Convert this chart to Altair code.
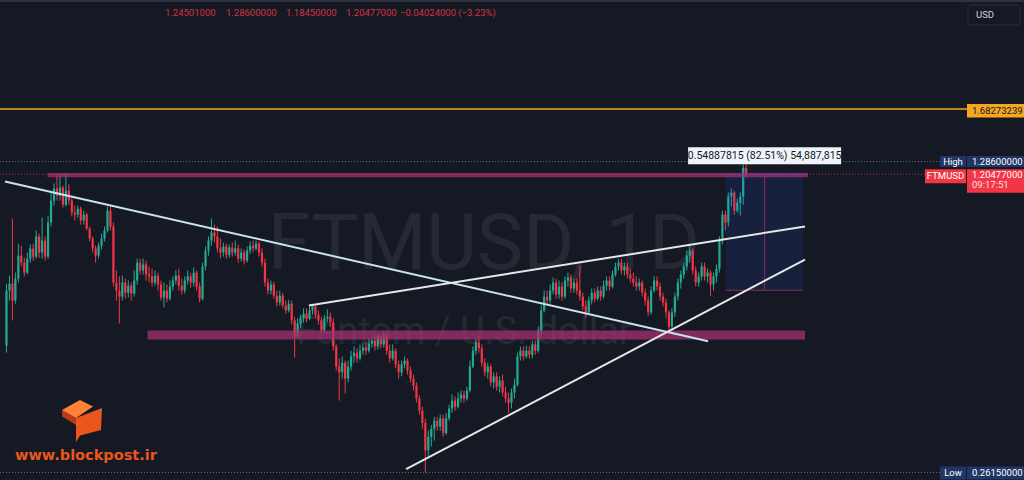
import altair as alt
import pandas as pd

BG = "#151924"
UP = "#22ab94"
DOWN = "#f23645"

# ---------------- data (daily candles, FTMUSD) ----------------
first_open = 0.501
close = [
    0.664, 0.688, 0.631, 0.706, 0.794, 0.766, 0.728, 0.782, 0.824, 0.790,
    0.876, 0.807, 0.858, 0.790, 0.941, 1.053, 1.120, 1.080, 1.126, 1.031,
    1.108, 1.053, 0.990, 0.980, 1.010, 0.951, 0.980, 0.912, 0.867, 0.824,
    0.794, 0.836, 0.867, 0.903, 1.000, 0.922, 0.692, 0.664, 0.644, 0.692,
    0.657, 0.681, 0.654, 0.699, 0.766, 0.736, 0.759, 0.721, 0.714, 0.692,
    0.717, 0.685, 0.641, 0.664, 0.637, 0.678, 0.699, 0.717, 0.681, 0.664,
    0.699, 0.714, 0.692, 0.728, 0.678, 0.637, 0.751, 0.815, 0.858, 0.894,
    0.876, 0.824, 0.807, 0.832, 0.798, 0.828, 0.807, 0.824, 0.782, 0.807,
    0.774, 0.815, 0.836, 0.824, 0.845, 0.807, 0.766, 0.692, 0.664, 0.685,
    0.647, 0.625, 0.647, 0.615, 0.600, 0.621, 0.570, 0.525, 0.561, 0.576,
    0.590, 0.576, 0.600, 0.612, 0.587, 0.570, 0.541, 0.576, 0.581, 0.564,
    0.499, 0.450, 0.437, 0.459, 0.423, 0.450, 0.474, 0.483, 0.469, 0.488,
    0.496, 0.488, 0.506, 0.514, 0.499, 0.525, 0.504, 0.530, 0.488, 0.469,
    0.488, 0.455, 0.437, 0.455, 0.464, 0.441, 0.423, 0.408, 0.382, 0.359,
    0.337, 0.293, 0.314, 0.327, 0.341, 0.331, 0.345, 0.320, 0.345, 0.363,
    0.378, 0.366, 0.382, 0.390, 0.382, 0.398, 0.450, 0.488, 0.509, 0.494,
    0.459, 0.437, 0.450, 0.415, 0.428, 0.406, 0.419, 0.394, 0.382, 0.374,
    0.394, 0.410, 0.474, 0.488, 0.474, 0.488, 0.478, 0.504, 0.488, 0.541,
    0.600, 0.644, 0.631, 0.664, 0.692, 0.651, 0.678, 0.644, 0.699, 0.710,
    0.671, 0.692, 0.664, 0.644, 0.612, 0.594, 0.631, 0.657, 0.637, 0.664,
    0.644, 0.681, 0.699, 0.678, 0.721, 0.751, 0.766, 0.736, 0.751, 0.721,
    0.706, 0.692, 0.678, 0.692, 0.657, 0.631, 0.594, 0.664, 0.699, 0.678,
    0.644, 0.625, 0.594, 0.552, 0.594, 0.644, 0.692, 0.721, 0.751, 0.794,
    0.815, 0.736, 0.692, 0.714, 0.751, 0.714, 0.728, 0.685, 0.714, 0.743,
    0.858, 0.980, 0.941, 1.075, 1.097, 1.000, 1.042, 1.075, 1.245, 1.20477,
]
high = [
    0.688, 0.717, 0.960, 0.728, 0.845, 0.836, 0.786, 0.807, 0.841, 0.845,
    0.903, 0.889, 0.965, 0.876, 0.975, 1.097, 1.150, 1.204, 1.210, 1.137,
    1.210, 1.144, 1.075, 1.026, 1.026, 1.021, 1.000, 0.990, 0.922, 0.876,
    0.836, 0.849, 0.889, 0.922, 1.021, 1.026, 0.941, 0.736, 0.714, 0.717,
    0.706, 0.699, 0.692, 0.736, 0.782, 0.782, 0.782, 0.774, 0.751, 0.743,
    0.736, 0.728, 0.699, 0.692, 0.685, 0.699, 0.714, 0.736, 0.743, 0.706,
    0.714, 0.736, 0.728, 0.747, 0.736, 0.692, 0.766, 0.832, 0.876, 0.960,
    0.931, 0.922, 0.867, 0.849, 0.845, 0.841, 0.849, 0.858, 0.841, 0.824,
    0.819, 0.832, 0.854, 0.858, 0.858, 0.854, 0.824, 0.782, 0.706, 0.699,
    0.695, 0.664, 0.664, 0.657, 0.631, 0.634, 0.631, 0.581, 0.576, 0.587,
    0.606, 0.606, 0.612, 0.618, 0.615, 0.600, 0.581, 0.587, 0.603, 0.594,
    0.576, 0.504, 0.469, 0.474, 0.464, 0.464, 0.488, 0.499, 0.494, 0.504,
    0.509, 0.509, 0.520, 0.525, 0.525, 0.533, 0.530, 0.541, 0.541, 0.504,
    0.504, 0.494, 0.464, 0.464, 0.474, 0.469, 0.450, 0.432, 0.415, 0.388,
    0.366, 0.345, 0.324, 0.334, 0.348, 0.348, 0.352, 0.352, 0.355, 0.370,
    0.390, 0.386, 0.394, 0.398, 0.398, 0.406, 0.464, 0.499, 0.520, 0.525,
    0.504, 0.469, 0.459, 0.455, 0.437, 0.437, 0.428, 0.432, 0.406, 0.394,
    0.402, 0.423, 0.483, 0.499, 0.499, 0.501, 0.499, 0.514, 0.514, 0.552,
    0.615, 0.664, 0.664, 0.685, 0.710, 0.706, 0.699, 0.692, 0.714, 0.728,
    0.721, 0.706, 0.706, 0.755, 0.657, 0.631, 0.644, 0.671, 0.671, 0.678,
    0.678, 0.699, 0.714, 0.714, 0.736, 0.766, 0.782, 0.782, 0.766, 0.766,
    0.743, 0.728, 0.714, 0.706, 0.699, 0.671, 0.644, 0.678, 0.714, 0.714,
    0.692, 0.657, 0.637, 0.600, 0.606, 0.657, 0.706, 0.736, 0.766, 0.815,
    0.836, 0.824, 0.751, 0.728, 0.766, 0.766, 0.743, 0.736, 0.728, 0.759,
    0.876, 1.000, 1.000, 1.097, 1.120, 1.108, 1.064, 1.097, 1.266, 1.286,
]
low = [
    0.483, 0.631, 0.570, 0.621, 0.692, 0.751, 0.714, 0.721, 0.766, 0.774,
    0.782, 0.786, 0.782, 0.774, 0.782, 0.922, 1.026, 1.053, 1.053, 1.016,
    1.021, 1.031, 0.970, 0.951, 0.965, 0.931, 0.931, 0.903, 0.854, 0.807,
    0.766, 0.782, 0.819, 0.854, 0.894, 0.903, 0.678, 0.631, 0.561, 0.631,
    0.637, 0.641, 0.631, 0.644, 0.685, 0.721, 0.721, 0.699, 0.692, 0.678,
    0.681, 0.664, 0.631, 0.609, 0.625, 0.631, 0.664, 0.685, 0.664, 0.651,
    0.654, 0.685, 0.674, 0.678, 0.664, 0.625, 0.631, 0.736, 0.794, 0.836,
    0.849, 0.807, 0.782, 0.790, 0.782, 0.786, 0.790, 0.794, 0.766, 0.770,
    0.759, 0.766, 0.802, 0.807, 0.815, 0.790, 0.751, 0.678, 0.651, 0.651,
    0.637, 0.612, 0.615, 0.606, 0.590, 0.594, 0.558, 0.471, 0.520, 0.547,
    0.564, 0.564, 0.570, 0.587, 0.576, 0.558, 0.533, 0.536, 0.564, 0.552,
    0.488, 0.441, 0.378, 0.423, 0.392, 0.415, 0.441, 0.459, 0.459, 0.464,
    0.478, 0.478, 0.483, 0.496, 0.488, 0.491, 0.494, 0.496, 0.478, 0.459,
    0.464, 0.446, 0.423, 0.428, 0.446, 0.432, 0.415, 0.398, 0.374, 0.352,
    0.327, 0.2615, 0.284, 0.299, 0.308, 0.324, 0.324, 0.314, 0.317, 0.341,
    0.355, 0.359, 0.363, 0.374, 0.374, 0.378, 0.394, 0.446, 0.478, 0.483,
    0.450, 0.428, 0.423, 0.406, 0.402, 0.398, 0.394, 0.386, 0.374, 0.355,
    0.363, 0.382, 0.406, 0.464, 0.464, 0.469, 0.469, 0.469, 0.478, 0.483,
    0.530, 0.594, 0.618, 0.621, 0.651, 0.637, 0.637, 0.631, 0.637, 0.678,
    0.657, 0.657, 0.651, 0.631, 0.600, 0.578, 0.587, 0.618, 0.625, 0.631,
    0.631, 0.637, 0.664, 0.664, 0.671, 0.714, 0.736, 0.721, 0.717, 0.706,
    0.692, 0.678, 0.664, 0.664, 0.644, 0.615, 0.584, 0.587, 0.657, 0.664,
    0.631, 0.612, 0.576, 0.536, 0.541, 0.581, 0.631, 0.671, 0.706, 0.736,
    0.766, 0.721, 0.678, 0.678, 0.699, 0.699, 0.692, 0.647, 0.664, 0.692,
    0.728, 0.841, 0.903, 0.922, 1.021, 0.980, 0.990, 0.975, 1.031, 1.1845,
]

# drawings (bar index, price)
trend_desc = {"i": [-0.5, 236.2], "p": [1.161, 0.512]}
trend_up_hi = {"i": [101.8, 268.8], "p": [0.615, 0.922]}
trend_up_lo = {"i": [134.5, 268.8], "p": [0.266, 0.778]}
bands = {"i": [13.8, 47.5], "i2": [269.8, 268.8], "p": [1.186, 0.517], "p2": [1.213, 0.541]}
range_box = {"i": [242.2], "i2": [268.2], "p": [0.6652], "p2": [1.2141], "im": [255.2]}
range_text = "0.54887815 (82.51%) 54,887,815"

legend_values = ["1.24501000", "1.28600000", "1.18450000", "1.20477000", "\u22120.04024000 (\u22123.23%)"]
legend_x = [165, 226, 286, 346, 400]
alert_price = 1.68273239
high_price = 1.286
last_price = 1.20477
low_price = 0.2615

# ---------------- build ----------------
opens = [first_open] + close[:-1]
df = pd.DataFrame({"i": list(range(len(close))), "open": opens, "high": high, "low": low, "close": close})
df["dir"] = ["up" if c >= o else "down" for o, c in zip(df["open"], df["close"])]

xs = alt.Scale(domain=[-0.5, 1024 / 3 - 0.5], nice=False, zero=False)
ys = alt.Scale(type="log", domain=[0.2517, 2.941], nice=False)
X = lambda f: alt.X(f, type="quantitative", scale=xs, axis=None)
Y = lambda f: alt.Y(f, type="quantitative", scale=ys, axis=None)
col = alt.Color("dir:N", scale=alt.Scale(domain=["up", "down"], range=[UP, DOWN]), legend=None)
FONT = "Roboto"
LFS = 9.5

def box(w, top, bottom):
    h = w / 2.0
    t, b = top / h, bottom / h
    return "M-1,%.4f L1,%.4f L1,%.4f L-1,%.4f Z" % (t, t, b, b), w * w

def one(**kw):
    return pd.DataFrame({k: [v] for k, v in kw.items()})

# watermark
wm1 = alt.Chart(one(t="FTMUSD, 1D")).mark_text(
    font=FONT, fontSize=78, color="#ffffff", opacity=0.065, align="center", baseline="middle"
).encode(text="t:N", x=alt.value(484), y=alt.value(246))
wm2 = alt.Chart(one(t="Fantom / U.S. dollar")).mark_text(
    font=FONT, fontSize=38, color="#ffffff", opacity=0.065, align="center", baseline="middle"
).encode(text="t:N", x=alt.value(464), y=alt.value(333))

# horizontal price lines
orange_line = alt.Chart(one(p=alert_price)).mark_rule(color="#f5a623", strokeWidth=1.5).encode(
    y=Y("p"), x=alt.value(0), x2=alt.value(967))
dotted = alt.Chart(pd.DataFrame({"p": [high_price, low_price]})).mark_rule(
    color="#6a6d78", strokeWidth=1, strokeDash=[1, 2]).encode(y=Y("p"), x=alt.value(0), x2=alt.value(940))
last_line = alt.Chart(one(p=last_price)).mark_rule(
    color="#b03048", strokeWidth=1, strokeDash=[1, 2]).encode(y=Y("p"), x=alt.value(0), x2=alt.value(925))

# candles
wicks = alt.Chart(df).mark_rule(strokeWidth=1).encode(x=X("i"), y=Y("low"), y2="high:Q", color=col)
bodies = alt.Chart(df).mark_bar(width=2.2).encode(x=X("i"), y=Y("open"), y2="close:Q", color=col)

# bands
band_layer = alt.Chart(pd.DataFrame(bands)).mark_rect(color="#a0306e", opacity=0.78).encode(
    x=X("i"), x2="i2:Q", y=Y("p"), y2="p2:Q")

# range tool
rb = pd.DataFrame(range_box)
rb_fill = alt.Chart(rb).mark_rect(color="#2962ff", opacity=0.12).encode(x=X("i"), x2="i2:Q", y=Y("p"), y2="p2:Q")
rb_mid = alt.Chart(rb).mark_rule(color="#8a2c50", strokeWidth=1).encode(x=X("im"), y=Y("p"), y2="p2:Q")
rb_bot = alt.Chart(rb).mark_rule(color="#8a2c50", strokeWidth=1).encode(x=X("i"), x2="i2:Q", y=Y("p"))
shape, size = box(153, -25.5, -8.5)
rb_lab_box = alt.Chart(rb).mark_point(shape=shape, size=size, filled=True, opacity=1, color="#f0f3fa", strokeWidth=0).encode(
    x=X("im"), y=Y("p2"))
rb_lab = alt.Chart(rb.assign(t=[range_text])).mark_text(font=FONT, fontSize=10.5, color="#131722", dy=-17).encode(
    x=X("im"), y=Y("p2"), text="t:N")

# trend lines
def tline(d, color):
    return alt.Chart(pd.DataFrame(d)).mark_line(color=color, strokeWidth=2).encode(x=X("i"), y=Y("p"), order="i:Q")
lines = [tline(trend_desc, "#c9e3ec"), tline(trend_up_hi, "#e6e6e6"), tline(trend_up_lo, "#e6e6e6")]

# right-hand price labels
def label_box(price, x, w, top, bottom, color):
    s, sz = box(w, top, bottom)
    return alt.Chart(one(p=price)).mark_point(
        shape=s, size=sz, filled=True, opacity=1, color=color, strokeWidth=0).encode(x=alt.value(x), y=Y("p"))

def label_text(price, text, x, dy, color, align="left"):
    return alt.Chart(one(p=price, t=text)).mark_text(
        font=FONT, fontSize=LFS, color=color, align=align, baseline="middle", dy=dy).encode(
        x=alt.value(x), y=Y("p"), text="t:N")

NAVY = "#1f3667"
labels = [
    label_box(alert_price, 995.5, 57, -5, 8.5, "#f5a623"),
    label_text(alert_price, "1.68273239", 972, 2, "#131722"),
    label_box(high_price, 953, 26, -5.5, 5.5, NAVY),
    label_text(high_price, "High", 953, 0.5, "#ffffff", align="center"),
    label_box(high_price, 995.5, 57, -5.5, 5.5, NAVY),
    label_text(high_price, "1.28600000", 972, 0.5, "#ffffff"),
    label_box(last_price, 945.5, 41, -5, 9, DOWN),
    label_text(last_price, "FTMUSD", 945.5, 2, "#ffffff", align="center"),
    label_box(last_price, 995.5, 57, -5, 18.5, DOWN),
    label_text(last_price, "1.20477000", 972, 0.5, "#ffffff"),
    label_text(last_price, "09:17:51", 972, 11, "#ffe0e3"),
    label_box(low_price, 953, 26, -6, 7, NAVY),
    label_text(low_price, "Low", 953, 0.5, "#ffffff", align="center"),
    label_box(low_price, 995.5, 57, -6, 7, NAVY),
    label_text(low_price, "0.26150000", 972, 0.5, "#ffffff"),
]

# USD button
usd_box = alt.Chart(one(a=0)).mark_rect(
    fill=BG, stroke="#2a2e39", strokeWidth=1, cornerRadius=3).encode(
    x=alt.value(968), x2=alt.value(1020), y=alt.value(5), y2=alt.value(25))
usd_txt = alt.Chart(one(t="USD")).mark_text(
    font=FONT, fontSize=9.5, color="#d1d4dc", align="left", baseline="middle").encode(
    text="t:N", x=alt.value(976), y=alt.value(15))

# top legend (OHLC + change)
legend = [
    alt.Chart(one(t=t)).mark_text(font=FONT, fontSize=9.5, color="#d8323f", align="left", baseline="middle").encode(
        text="t:N", x=alt.value(x), y=alt.value(13))
    for t, x in zip(legend_values, legend_x)
]
top_border = alt.Chart(one(a=0)).mark_rule(color="#2e323d", strokeWidth=2).encode(
    x=alt.value(0), x2=alt.value(1024), y=alt.value(1))

# logo
logo_top = "M-1,-0.55 L-0.1,-1.05 L0.55,-0.72 L-0.3,-0.15 Z"
logo_left = "M-1,-0.55 L-0.3,-0.15 L-0.3,0.2 L-1,-0.22 Z"
logo_front = "M-0.3,-0.15 L1,-0.65 L0.95,0.45 L-0.1,0.72 L-0.3,1.05 Z"
def logo_part(path, color):
    return alt.Chart(one(a=0)).mark_point(
        shape=path, size=1600, filled=True, opacity=1, color=color, strokeWidth=0).encode(
        x=alt.value(82), y=alt.value(421))
logo = [logo_part(logo_left, "#b93a10"), logo_part(logo_top, "#ff8236"), logo_part(logo_front, "#ea561c")]
logo_txt = alt.Chart(one(t="www.blockpost.ir")).mark_text(
    font="DejaVu Sans", fontSize=14.5, fontWeight="bold", color="#ea561c", align="left", baseline="middle").encode(
    text="t:N", x=alt.value(15), y=alt.value(456))

chart = alt.layer(
    wm1, wm2, orange_line, dotted, last_line, wicks, bodies, band_layer,
    rb_fill, rb_mid, rb_bot, *lines, rb_lab_box, rb_lab, *labels,
    usd_box, usd_txt, *legend, top_border, *logo, logo_txt,
).properties(
    width=1024, height=480, background=BG, padding=0, autosize="none"
).configure_view(stroke=None)

chart.save("out.html", embed_options={"renderer": "svg", "actions": False})
